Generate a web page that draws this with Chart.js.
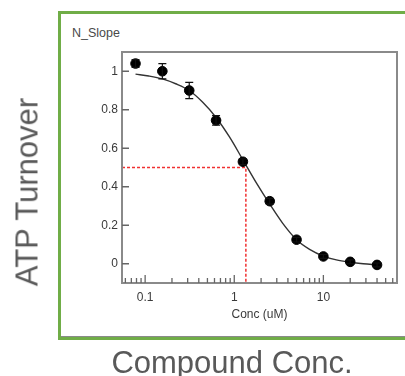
<!DOCTYPE html>
<html>
<head>
<meta charset="utf-8">
<script src="https://cdn.jsdelivr.net/npm/chart.js@4.4.1/dist/chart.umd.min.js"></script>
<style>
    html, body { margin: 0; padding: 0; background: #fff; }
    #wrap { position: relative; width: 405px; height: 376px; overflow: hidden; font-family: "Liberation Sans", Arial, sans-serif; }
    #frame { position: absolute; left: 58px; top: 11px; width: 400px; height: 323px; border: 3px solid #70ad47; border-right: none; box-shadow: inset 0 -1px 0 #8a8a8a; }
    #chart { position: absolute; left: 0; top: 0; }
    .lbl { position: absolute; color: #595959; white-space: nowrap; line-height: 1; }
    #ylab { left: 27px; top: 192px; font-size: 31px; transform: translate(-50%, -50%) rotate(-90deg); }
    #xlab { left: 232px; top: 362px; font-size: 31px; transform: translate(-50%, -50%); }
    #nslope { left: 72px; top: 27px; font-size: 12.5px; color: #4a4a4a; }
</style>
</head>
<body>
<div id="wrap">
    <div id="frame"></div>
    <div class="lbl" id="nslope">N_Slope</div>
    <canvas id="chart" width="405" height="376"></canvas>
    <div class="lbl" id="ylab">ATP Turnover</div>
    <div class="lbl" id="xlab">Compound Conc.</div>
</div>
<script>
// measured points (2-fold dilution)
const concX = [0.078, 0.156, 0.3125, 0.625, 1.25, 2.5, 5, 10, 20, 40];
const turnover = [1.04, 1.0, 0.9, 0.745, 0.53, 0.325, 0.125, 0.038, 0.01, -0.006];
const errBar = [0.02, 0.04, 0.042, 0.025, 0.015, 0.015, 0.012, 0.01, 0.01, 0.01];

// fitted curve
const fitX = [0.078, 0.11, 0.156, 0.22, 0.3125, 0.44, 0.625, 0.88, 1.25, 1.77, 2.5, 3.5, 5, 7, 10, 14, 20, 28, 40];
const fitY = [0.985, 0.975, 0.96, 0.935, 0.9, 0.84, 0.76, 0.66, 0.54, 0.42, 0.31, 0.21, 0.125, 0.075, 0.04, 0.02, 0.008, 0.0, -0.006];

const ic50 = 1.35;
const halfLevel = 0.5;

const yTicks = [0, 0.2, 0.4, 0.6, 0.8, 1];
const xMajor = [0.1, 1, 10];
const xMinor = [0.06, 0.07, 0.08, 0.09, 0.2, 0.3, 0.4, 0.5, 0.6, 0.7, 0.8, 0.9, 2, 3, 4, 5, 6, 7, 8, 9, 20, 30, 40, 50, 60];

const xMin = 0.055, xMax = 67;
const yMin = -0.1, yMax = 1.1;

const tickFont = { family: "'Liberation Sans', Arial, sans-serif", size: 12 };

const decorations = {
    id: "decorations",
    afterDatasetsDraw(chart) {
        const { ctx, chartArea: a, scales: { x, y } } = chart;
        ctx.save();

        // error bars
        ctx.strokeStyle = "#111";
        ctx.lineWidth = 1.2;
        concX.forEach((c, i) => {
            const px = x.getPixelForValue(c);
            const top = y.getPixelForValue(turnover[i] + errBar[i]);
            const bot = y.getPixelForValue(turnover[i] - errBar[i]);
            ctx.beginPath();
            ctx.moveTo(px, top); ctx.lineTo(px, bot);
            ctx.moveTo(px - 4, top); ctx.lineTo(px + 4, top);
            ctx.moveTo(px - 4, bot); ctx.lineTo(px + 4, bot);
            ctx.stroke();
        });

        // plot box
        ctx.strokeStyle = "#8a8a8a";
        ctx.lineWidth = 2;
        ctx.strokeRect(a.left, a.top, a.right - a.left, a.bottom - a.top);

        // inward ticks
        ctx.strokeStyle = "#666";
        ctx.lineWidth = 1.3;
        ctx.beginPath();
        xMinor.forEach((v) => {
            const px = x.getPixelForValue(v);
            ctx.moveTo(px, a.bottom); ctx.lineTo(px, a.bottom - 5);
        });
        xMajor.forEach((v) => {
            const px = x.getPixelForValue(v);
            ctx.moveTo(px, a.bottom); ctx.lineTo(px, a.bottom - 8);
        });
        yTicks.forEach((v) => {
            const py = y.getPixelForValue(v);
            ctx.moveTo(a.left, py); ctx.lineTo(a.left + 7, py);
        });
        ctx.stroke();
        ctx.restore();
    }
};

new Chart(document.getElementById("chart"), {
    type: "scatter",
    data: {
        datasets: [
            {
                type: "line",
                data: fitX.map((v, i) => ({ x: v, y: fitY[i] })),
                borderColor: "#333",
                borderWidth: 1.4,
                pointRadius: 0,
                cubicInterpolationMode: "monotone",
                fill: false,
                order: 3,
            },
            {
                type: "line",
                data: [{ x: xMin, y: halfLevel }, { x: ic50, y: halfLevel }, { x: ic50, y: yMin }],
                borderColor: "#f03030",
                borderWidth: 1.5,
                borderDash: [3, 2],
                pointRadius: 0,
                tension: 0,
                fill: false,
                order: 2,
            },
            {
                data: concX.map((v, i) => ({ x: v, y: turnover[i] })),
                backgroundColor: "#000",
                borderColor: "#000",
                pointRadius: 4.8,
                pointHoverRadius: 4.8,
                order: 1,
            },
        ],
    },
    options: {
        responsive: false,
        devicePixelRatio: 1,
        animation: false,
        events: [],
        layout: { padding: { left: 0, top: 52, right: 8, bottom: 0 } },
        plugins: { legend: { display: false }, tooltip: { enabled: false } },
        scales: {
            x: {
                type: "logarithmic",
                min: xMin,
                max: xMax,
                grid: { display: false, drawTicks: false },
                border: { display: false },
                afterBuildTicks: (scale) => {
                    scale.ticks = [...xMinor, ...xMajor].sort((p, q) => p - q).map((v) => ({ value: v }));
                },
                afterFit: (scale) => { scale.height = 93; },
                ticks: {
                    autoSkip: false,
                    maxRotation: 0,
                    padding: 7,
                    color: "#3a3a3a",
                    font: tickFont,
                    callback: (v) => (xMajor.includes(v) ? String(v) : ""),
                },
                title: {
                    display: true,
                    text: "Conc (uM)",
                    color: "#3a3a3a",
                    font: tickFont,
                    padding: { top: 0, bottom: 54 },
                },
            },
            y: {
                min: yMin,
                max: yMax,
                grid: { display: false, drawTicks: false },
                border: { display: false },
                afterBuildTicks: (scale) => {
                    scale.ticks = yTicks.map((v) => ({ value: v }));
                },
                afterFit: (scale) => { scale.width = 122; },
                ticks: {
                    padding: 4,
                    color: "#3a3a3a",
                    font: tickFont,
                    callback: (v) => String(v),
                },
            },
        },
    },
    plugins: [decorations],
});
</script>
</body>
</html>
